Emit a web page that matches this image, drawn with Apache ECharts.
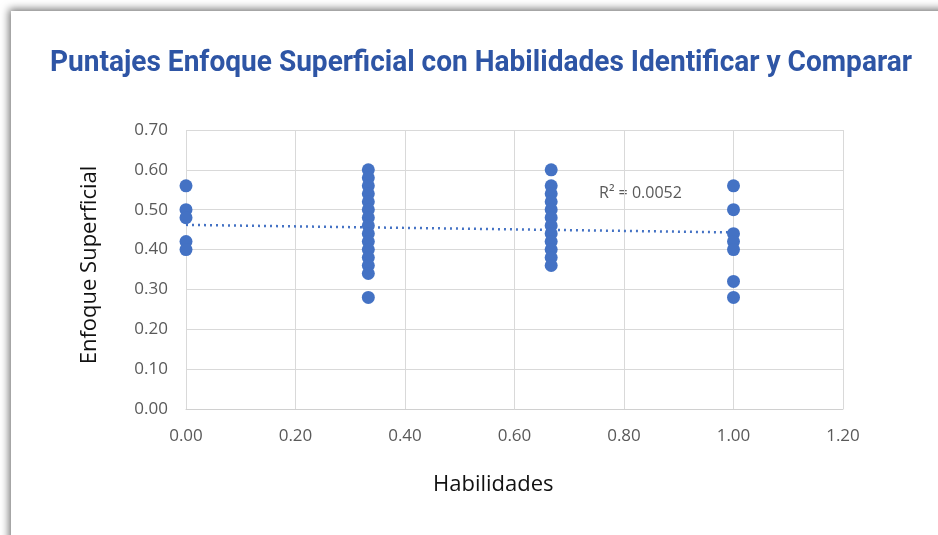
<!DOCTYPE html>
<html lang="es">
<head>
	<meta charset="UTF-8">
	<title>Puntajes Enfoque Superficial</title>
	<script src="https://cdn.jsdelivr.net/npm/echarts@6/dist/echarts.min.js"></script>
	<style>
		html, body { margin: 0; padding: 0; width: 938px; height: 535px; overflow: hidden; background: #fff; }
		#card { position: absolute; left: 11px; top: 11px; width: 1000px; height: 800px; background: #fff;
			box-shadow: -2px -2px 8px rgba(0,0,0,0.55); }
		#chart { position: absolute; left: 0; top: 0; width: 938px; height: 535px; }
	</style>
</head>
<body>
	<div id="card"></div>
	<div id="chart"></div>
	<script>
	// puntos: habilidades (x) y enfoque superficial (y)
	var col0X = 0, col0Y = [0.56, 0.50, 0.48, 0.42, 0.40];
	var col1X = 0.333, col1Y = [0.60, 0.58, 0.56, 0.54, 0.52, 0.50, 0.48, 0.46, 0.44, 0.42, 0.40, 0.38, 0.36, 0.34, 0.28];
	var col2X = 0.667, col2Y = [0.60, 0.56, 0.54, 0.52, 0.50, 0.48, 0.46, 0.44, 0.42, 0.40, 0.38, 0.36];
	var col3X = 1.00, col3Y = [0.56, 0.50, 0.44, 0.42, 0.40, 0.32, 0.28];
	// linea de tendencia (extremos leidos)
	var trendX = [0, 1];
	var trendY = [0.462, 0.443];
	var r2Text = 'R² = 0.0052';
	var titleText = 'Puntajes Enfoque Superficial con Habilidades Identificar y Comparar';

	var points = [];
	function addCol(x, ys) {
		for (var i = 0; i < ys.length; i++) points.push([x, ys[i]]);
	}
	addCol(col0X, col0Y);
	addCol(col1X, col1Y);
	addCol(col2X, col2Y);
	addCol(col3X, col3Y);

	var trend = [];
	for (var i = 0; i < trendX.length; i++) trend.push([trendX[i], trendY[i]]);

	// el titulo original es una letra condensada: se estrecha para ocupar ~862px
	var titleFont = 'bold 29.5px Roboto, sans-serif';
	var ctx = document.createElement('canvas').getContext('2d');
	ctx.font = titleFont;
	var titleScale = 862 / ctx.measureText(titleText).width;

	var gray = '#595959';
	var chart = echarts.init(document.getElementById('chart'));
	var option = {
		animation: false,
		grid: { left: 186, right: 95, top: 130, bottom: 126 },
		xAxis: {
			type: 'value', min: 0, max: 1.2, interval: 0.2,
			axisLine: { show: true, lineStyle: { color: '#d0d0d0' } },
			axisTick: { show: false },
			splitLine: { show: true, lineStyle: { color: '#d9d9d9' } },
			axisLabel: {
				color: gray, fontSize: 17, margin: 19,
				fontFamily: '"Open Sans", sans-serif',
				formatter: function (v) { return v.toFixed(2); }
			}
		},
		yAxis: {
			type: 'value', min: 0, max: 0.7, interval: 0.1,
			axisLine: { show: false },
			axisTick: { show: false },
			splitLine: { show: true, lineStyle: { color: '#d9d9d9' } },
			axisLabel: {
				color: gray, fontSize: 17, margin: 18,
				fontFamily: '"Open Sans", sans-serif',
				formatter: function (v) { return v.toFixed(2); }
			}
		},
		graphic: [
			{ type: 'text', x: 481, y: 64, scaleX: titleScale,
				style: { text: titleText, fill: '#2E55A5', font: titleFont,
					align: 'center', verticalAlign: 'middle' } },
			{ type: 'text', left: 433, top: 474,
				style: { text: 'Habilidades', fill: '#111', font: '22px "Open Sans", sans-serif' } },
			{ type: 'text', x: 90, y: 265, rotation: Math.PI / 2,
				style: { text: 'Enfoque Superficial', fill: '#111', font: '22px "Open Sans", sans-serif',
					align: 'center', verticalAlign: 'middle' } },
			{ type: 'text', left: 599, top: 185,
				style: { text: r2Text, fill: gray, font: '16px "Open Sans", sans-serif' } }
		],
		series: [
			{
				type: 'line', data: trend, symbol: 'none', z: 1,
				lineStyle: { color: '#4472C4', width: 2.5, type: [2, 4] }
			},
			{
				type: 'scatter', data: points, symbolSize: 13, z: 2,
				itemStyle: { color: '#4472C4', opacity: 1 }
			}
		]
	};
	chart.setOption(option);
	</script>
</body>
</html>
